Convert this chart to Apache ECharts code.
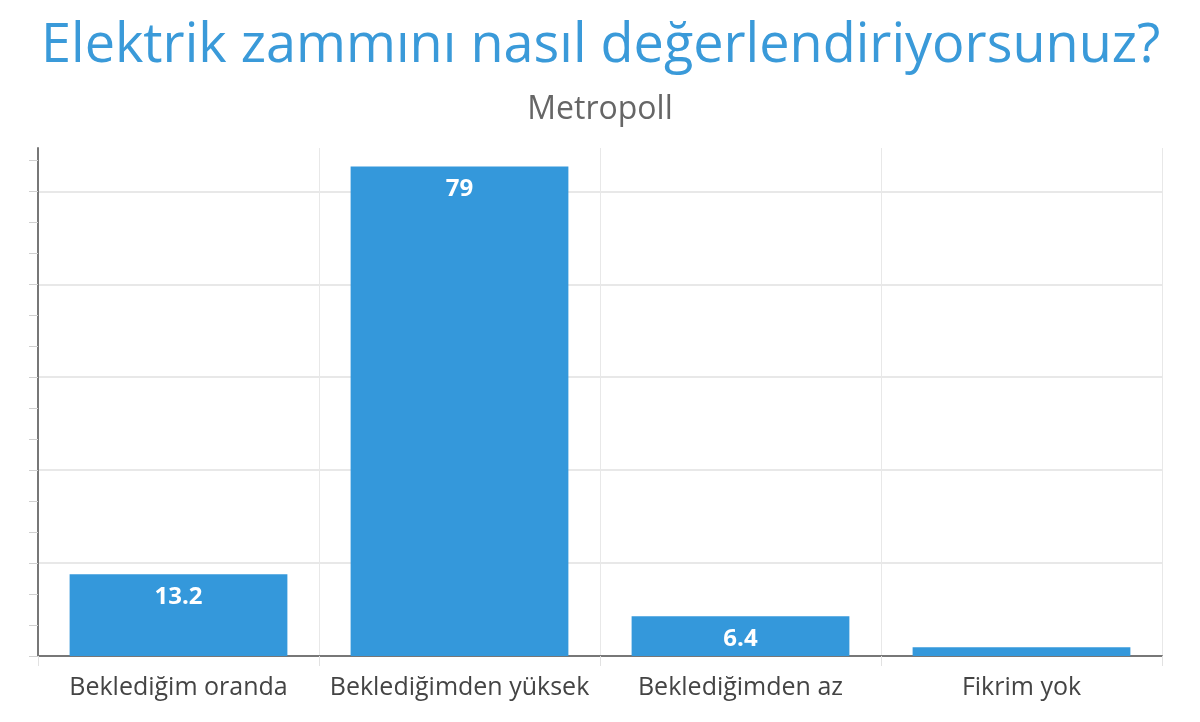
<!DOCTYPE html>
<html>
<head>
<meta charset="utf-8">
<script src="https://cdn.jsdelivr.net/npm/echarts@6/dist/echarts.min.js"></script>
<style>
  html, body { margin: 0; padding: 0; background: #fff; }
  #main { width: 1200px; height: 722px; }
</style>
</head>
<body>
<div id="main"></div>
<script>
let categories = ['Beklediğim oranda', 'Beklediğimden yüksek', 'Beklediğimden az', 'Fikrim yok'];
let values = [13.2, 79, 6.4, 1.4];
let minorTicks = [0, 5, 10, 15, 20, 25, 30, 35, 40, 45, 50, 55, 60, 65, 70, 75, 80];
let gridTicks = [0, 15, 30, 45, 60, 75];

let myChart = echarts.init(document.getElementById('main'));
let option = {
  backgroundColor: '#fff',
  title: [
    {
      text: 'Elektrik zammını nasıl değerlendiriyorsunuz?',
      left: 36,
      top: 15,
      textStyle: {
        color: '#3a9ad9',
        fontFamily: 'Open Sans',
        fontSize: 54,
        fontWeight: 'normal'
      }
    },
    {
      text: 'Metropoll',
      left: 'center',
      top: 89,
      textStyle: {
        color: '#666',
        fontFamily: 'Open Sans',
        fontSize: 32,
        fontWeight: 'normal'
      }
    }
  ],
  grid: {
    left: 38,
    right: 38,
    top: 148,
    bottom: 66
  },
  xAxis: {
    type: 'category',
    data: categories,
    axisLine: {
      lineStyle: { color: '#777', width: 2 }
    },
    axisTick: {
      show: true,
      interval: 0,
      length: 10,
      lineStyle: { color: '#e2e2e2' }
    },
    splitLine: {
      show: true,
      interval: 0,
      lineStyle: { color: '#e8e8e8' }
    },
    axisLabel: {
      interval: 0,
      color: '#444',
      fontFamily: 'Open Sans',
      fontSize: 25,
      margin: 19
    }
  },
  yAxis: [
    {
      type: 'value',
      min: 0,
      max: 82,
      axisLine: {
        show: true,
        lineStyle: { color: '#777', width: 2 }
      },
      axisTick: {
        show: true,
        length: 9,
        customValues: minorTicks,
        lineStyle: { color: '#d0d0d0' }
      },
      axisLabel: { show: false },
      splitLine: { show: false }
    },
    {
      type: 'value',
      min: 0,
      max: 82,
      position: 'left',
      axisLine: { show: false },
      axisTick: { show: false, customValues: gridTicks },
      axisLabel: { show: false },
      splitLine: {
        show: true,
        lineStyle: { color: '#e8e8e8', width: 2 }
      }
    }
  ],
  series: [
    {
      type: 'bar',
      data: values,
      barWidth: '77.5%',
      itemStyle: { color: '#3498db' },
      label: {
        show: true,
        position: 'insideTop',
        distance: 11,
        color: '#fff',
        fontFamily: 'Open Sans',
        fontWeight: 'bold',
        fontSize: 24,
        formatter: function (p) {
          return p.value < 3 ? '' : String(p.value);
        }
      }
    }
  ]
};
myChart.setOption(option);
</script>
</body>
</html>
